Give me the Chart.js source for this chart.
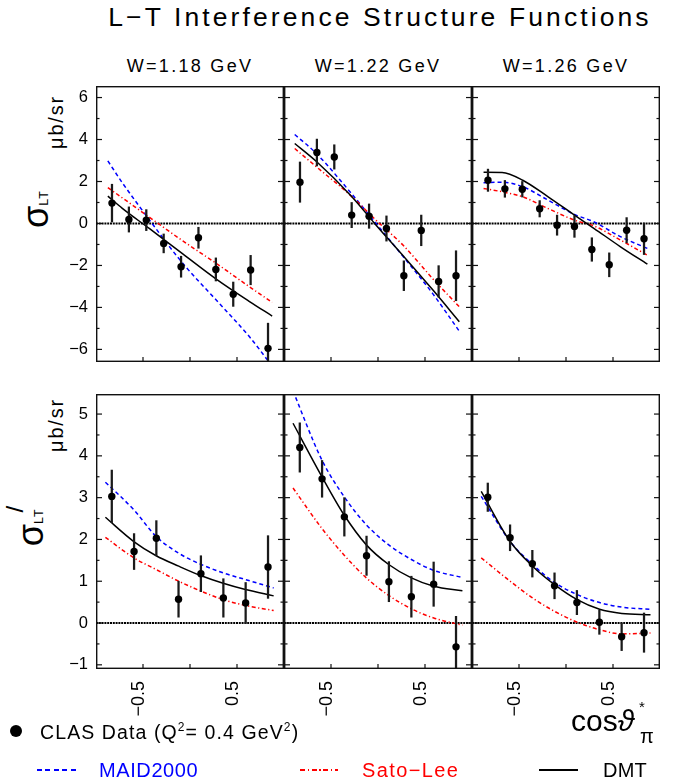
<!DOCTYPE html>
<html>
<head>
<meta charset="utf-8">
<script src="https://cdn.jsdelivr.net/npm/chart.js@4.4.0/dist/chart.umd.min.js"></script>
<style>
body { margin: 0; background: #fff; }
#wrap { position: relative; width: 679px; height: 784px; font-family: "Liberation Sans", Arial, sans-serif; color: #000; overflow: hidden; }
canvas { position: absolute; }
.t { position: absolute; white-space: nowrap; line-height: 1; }
.rot { transform: translate(-50%, -50%) rotate(-90deg); }
.ln { position: absolute; height: 2px; }
</style>
</head>
<body>
<div id="wrap">
  <div class="t" style="left:380px;top:4px;font-size:26.5px;letter-spacing:3.1px;transform:translateX(-50%)">L−T Interference Structure Functions</div>

  <div class="t" style="left:190px;top:57px;font-size:18px;letter-spacing:2.3px;transform:translateX(-50%)">W=1.18 GeV</div>
  <div class="t" style="left:378px;top:57px;font-size:18px;letter-spacing:2.3px;transform:translateX(-50%)">W=1.22 GeV</div>
  <div class="t" style="left:566px;top:57px;font-size:18px;letter-spacing:2.3px;transform:translateX(-50%)">W=1.26 GeV</div>

  <div class="t rot" style="left:56px;top:122px;font-size:20px;letter-spacing:1.8px">μb/sr</div>
  <div class="t rot" style="left:56px;top:425px;font-size:20px;letter-spacing:1.8px">μb/sr</div>
  <div class="t rot" style="left:36px;top:209px;font-size:36px">σ<span style="font-size:12.5px;letter-spacing:1px">LT</span></div>
  <div class="t rot" style="left:31px;top:524px;font-size:36px">σ<span style="font-size:12.5px;letter-spacing:1px">LT</span><span style="font-size:24px;position:relative;top:-20px;left:-4px">/</span></div>

  <canvas id="c0" width="284" height="276" style="left:0;top:86px"></canvas>
  <canvas id="c1" width="188" height="276" style="left:284px;top:86px"></canvas>
  <canvas id="c2" width="188" height="276" style="left:472px;top:86px"></canvas>
  <canvas id="c3" width="284" height="335" style="left:0;top:394px"></canvas>
  <canvas id="c4" width="188" height="335" style="left:284px;top:394px"></canvas>
  <canvas id="c5" width="188" height="335" style="left:472px;top:394px"></canvas>

  <div class="t" style="left:571px;top:706px;font-size:30px">cos<span style="font-style:italic">ϑ</span></div>
  <div class="t" style="left:639px;top:699px;font-size:15px">*</div>
  <div class="t" style="left:640px;top:726px;font-size:20px">π</div>

  <!-- legend -->
  <div class="t" style="left:10px;top:725px;width:12px;height:12px;border-radius:50%;background:#000"></div>
  <div class="t" style="left:40px;top:721px;font-size:19.5px;letter-spacing:1.1px">CLAS Data (Q<sup style="font-size:12px">2</sup>= 0.4 GeV<sup style="font-size:12px">2</sup>)</div>
  <div class="ln" style="left:37px;top:769px;width:40px;background:repeating-linear-gradient(90deg,#0000ff 0 5px,transparent 5px 8.5px)"></div>
  <div class="t" style="left:99px;top:760px;font-size:20px;color:#0000ff;letter-spacing:0.6px">MAID2000</div>
  <div class="ln" style="left:300px;top:769px;width:38px;background:repeating-linear-gradient(90deg,#ff0000 0 5px,transparent 5px 7.5px,#ff0000 7.5px 9px,transparent 9px 11.5px)"></div>
  <div class="t" style="left:362px;top:760px;font-size:20px;color:#ff0000;letter-spacing:1.4px">Sato−Lee</div>
  <div class="ln" style="left:539px;top:769px;width:39px;height:1.5px;background:#000"></div>
  <div class="t" style="left:603px;top:760px;font-size:20px;letter-spacing:0.2px">DMT</div>
</div>

<script>
// cos(theta*) bin centres of the data points
const cosTop = [-0.83, -0.65, -0.465, -0.28, -0.095, 0.09, 0.275, 0.46, 0.645, 0.83];
const cosBot = [-0.832, -0.595, -0.358, -0.122, 0.116, 0.355, 0.592, 0.83];

// sigma_LT, CLAS data
const lt118 = [0.97, 0.19, 0.16, -0.95, -2.06, -0.68, -2.19, -3.37, -2.22, -5.95];
const lt118Err = [0.9, 0.6, 0.5, 0.45, 0.5, 0.5, 0.55, 0.58, 0.7, 1.2];
const lt122 = [1.97, 3.38, 3.17, 0.40, 0.35, -0.24, -2.49, -0.33, -2.76, -2.49];
const lt122Err = [0.96, 0.64, 0.58, 0.6, 0.58, 0.6, 0.71, 0.73, 0.75, 1.19];
const lt126 = [2.06, 1.65, 1.63, 0.70, -0.08, -0.14, -1.24, -1.97, -0.32, -0.73];
const lt126Err = [0.53, 0.4, 0.37, 0.39, 0.48, 0.52, 0.56, 0.57, 0.6, 0.75];

// sigma_LT', CLAS data
const ltp118 = [3.03, 1.71, 2.03, 0.57, 1.18, 0.60, 0.48, 1.34];
const ltp118Err = [0.63, 0.43, 0.42, 0.43, 0.43, 0.46, 0.49, 0.75];
const ltp122 = [4.20, 3.45, 2.54, 1.61, 0.99, 0.63, 0.93, -0.57];
const ltp122Err = [0.59, 0.44, 0.46, 0.47, 0.48, 0.49, 0.53, 0.73];
const ltp126 = [3.01, 2.04, 1.42, 0.89, 0.49, 0.02, -0.33, -0.23];
const ltp126Err = [0.34, 0.31, 0.32, 0.31, 0.29, 0.29, 0.33, 0.47];

// model curves, sigma_LT
const cv118 = [-0.874, -0.72, -0.43, -0.077, 0.279, 0.633, 0.874];
const maid118 = [2.98, 1.94, 0.16, -1.90, -3.65, -5.40, -6.80];
const sato118 = [1.71, 1.22, 0.29, -0.83, -1.90, -3.02, -3.76];
const dmt118 = [1.30, 0.72, -0.25, -1.45, -2.65, -3.72, -4.41];

const cv122 = [-0.886, -0.655, -0.283, -0.02, 0.27, 0.58, 0.865];
const maid122 = [4.24, 3.33, 1.43, 0.0, -1.59, -3.33, -5.13];
const sato122 = [3.57, 2.7, 1.3, 0.15, -1.05, -2.62, -3.97];
const dmt122 = [3.81, 2.95, 1.30, -0.08, -1.55, -3.15, -4.68];

const cv126 = [-0.877, -0.68, -0.46, -0.19, 0.09, 0.30, 0.58, 0.866];
const maid126 = [1.94, 1.97, 1.75, 1.11, 0.43, 0.07, -0.63, -1.19];
const sato126 = [1.67, 1.51, 1.27, 0.71, 0.16, -0.12, -0.79, -1.51];
const dmt126 = [2.44, 2.43, 2.06, 1.27, 0.40, -0.24, -1.11, -1.94];

// model curves, sigma_LT'
const cvp118 = [-0.90, -0.598, -0.36, -0.12, 0.12, 0.353, 0.59, 0.89];
const maidp118 = [3.37, 2.71, 2.07, 1.67, 1.40, 1.20, 1.04, 0.84];
const satop118 = [2.05, 1.56, 1.28, 1.0, 0.76, 0.56, 0.42, 0.30];
const dmtp118 = [2.53, 1.95, 1.61, 1.36, 1.13, 0.95, 0.80, 0.65];

const cvp122 = [-0.904, -0.599, -0.362, -0.124, 0.114, 0.355, 0.593, 0.898];
const maidp122 = [5.55, 3.91, 3.03, 2.35, 1.87, 1.52, 1.26, 1.09];
const satop122 = [3.23, 2.27, 1.63, 1.08, 0.66, 0.34, 0.12, -0.05];
const dmtp122 = [4.78, 3.51, 2.59, 1.87, 1.40, 1.08, 0.88, 0.77];

const cvp126 = [-0.902, -0.594, -0.356, -0.122, 0.119, 0.357, 0.594, 0.899];
const maidp126 = [3.03, 1.95, 1.40, 0.97, 0.68, 0.49, 0.38, 0.33];
const satop126 = [1.56, 1.0, 0.6, 0.28, 0.02, -0.16, -0.26, -0.24];
const dmtp126 = [3.15, 1.95, 1.36, 0.92, 0.56, 0.33, 0.23, 0.20];

// axes
const xLabelTicks = [-0.5, 0.5];
const xMarks = [-0.5, 0, 0.5];
const topMajor = [-6, -4, -2, 0, 2, 4, 6];
const topMinor = [-6, -5, -4, -3, -2, -1, 0, 1, 2, 3, 4, 5, 6];
const botMajor = [-1, 0, 1, 2, 3, 4, 5];
const botMinor = [-1, -0.5, 0, 0.5, 1, 1.5, 2, 2.5, 3, 3.5, 4, 4.5, 5];

const minus = v => (v < 0 ? '−' + Math.abs(v) : String(v));
const pts = (xs, ys) => xs.map((x, i) => ({ x: x, y: ys[i] }));

// frame, inward tick marks
const frame = {
  id: 'frame',
  afterDraw(chart, args, o) {
    const { ctx, chartArea: a, scales } = chart;
    const line = (x1, y1, x2, y2) => { ctx.beginPath(); ctx.moveTo(x1, y1); ctx.lineTo(x2, y2); ctx.stroke(); };
    ctx.save();
    ctx.strokeStyle = '#111';
    ctx.lineWidth = 1.2;
    o.minor.forEach(v => {
      const py = scales.y.getPixelForValue(v);
      const len = o.major.includes(v) ? 6 : 3.5;
      line(a.left, py, a.left + len, py);
      line(a.right - len, py, a.right, py);
    });
    xMarks.forEach(v => {
      const px = scales.x.getPixelForValue(v);
      line(px, a.bottom, px, a.bottom - 5);
    });
    ctx.lineWidth = 1.4;
    ctx.strokeRect(a.left + 0.7, a.top + 0.7, a.right - a.left - 1.4, a.bottom - a.top - 1.4);
    ctx.restore();
  }
};

function panel(id, row, col, xs, ys, errs, cx, maid, sato, dmt) {
  const bottom = row === 1;
  const left = col === 0;
  const yScale = {
    min: bottom ? -1.1 : -6.6,
    max: bottom ? 5.48 : 6.55,
    display: left,
    afterBuildTicks: s => { s.ticks = (bottom ? botMajor : topMajor).map(v => ({ value: v })); },
    ticks: { padding: 8, color: '#000', font: { family: 'Liberation Sans', size: 16.5 }, callback: v => minus(v) },
    grid: { display: false, drawTicks: false },
    border: { display: false }
  };
  if (left) yScale.afterFit = s => { s.width = 96; s.paddingTop = 0; s.paddingBottom = 0; s.paddingLeft = 0; s.paddingRight = 0; };
  const xScale = {
    type: 'linear', min: -1, max: 1, offset: false,
    display: bottom,
    afterBuildTicks: s => { s.ticks = xLabelTicks.map(v => ({ value: v })); },
    ticks: { padding: 12, labelOffset: -4, autoSkip: false, minRotation: 90, maxRotation: 90, color: '#000', font: { family: 'Liberation Sans', size: 18 }, callback: v => minus(v) },
    grid: { display: false, drawTicks: false },
    border: { display: false }
  };
  if (bottom) xScale.afterFit = s => { s.height = 60; s.paddingTop = 0; s.paddingBottom = 0; s.paddingLeft = 0; s.paddingRight = 0; };

  new Chart(document.getElementById(id), {
    type: 'scatter',
    data: {
      datasets: [
        { type: 'scatter', data: pts(xs, ys), pointRadius: 3.7, pointBackgroundColor: '#000', pointBorderWidth: 0, order: 0 },
        { type: 'bar', data: xs.map((x, i) => ({ x: x, y: [ys[i] - errs[i], ys[i] + errs[i]] })), backgroundColor: '#1a1a1a', barThickness: 1.6, borderWidth: 0, order: 1 },
        { type: 'line', data: pts(cx, dmt), borderColor: '#000', borderWidth: 1.5, pointRadius: 0, cubicInterpolationMode: 'monotone', order: 2 },
        { type: 'line', data: pts(cx, sato), borderColor: '#ff0000', borderWidth: 1.5, borderDash: [4, 2.5, 1.2, 2.5], pointRadius: 0, cubicInterpolationMode: 'monotone', order: 3 },
        { type: 'line', data: pts(cx, maid), borderColor: '#0000ff', borderWidth: 1.5, borderDash: [4, 3], pointRadius: 0, cubicInterpolationMode: 'monotone', order: 4 },
        { type: 'line', data: [{ x: -1, y: 0 }, { x: 1, y: 0 }], borderColor: '#000', borderWidth: 2, borderDash: [2, 0.8], pointRadius: 0, order: 5 }
      ]
    },
    options: {
      responsive: false,
      animation: false,
      layout: { padding: 0, autoPadding: false },
      scales: { x: xScale, y: yScale },
      plugins: {
        legend: { display: false },
        tooltip: { enabled: false },
        frame: { major: bottom ? botMajor : topMajor, minor: bottom ? botMinor : topMinor }
      }
    },
    plugins: [frame]
  });
}

panel('c0', 0, 0, cosTop, lt118, lt118Err, cv118, maid118, sato118, dmt118);
panel('c1', 0, 1, cosTop, lt122, lt122Err, cv122, maid122, sato122, dmt122);
panel('c2', 0, 2, cosTop, lt126, lt126Err, cv126, maid126, sato126, dmt126);
panel('c3', 1, 0, cosBot, ltp118, ltp118Err, cvp118, maidp118, satop118, dmtp118);
panel('c4', 1, 1, cosBot, ltp122, ltp122Err, cvp122, maidp122, satop122, dmtp122);
panel('c5', 1, 2, cosBot, ltp126, ltp126Err, cvp126, maidp126, satop126, dmtp126);
</script>
</body>
</html>
